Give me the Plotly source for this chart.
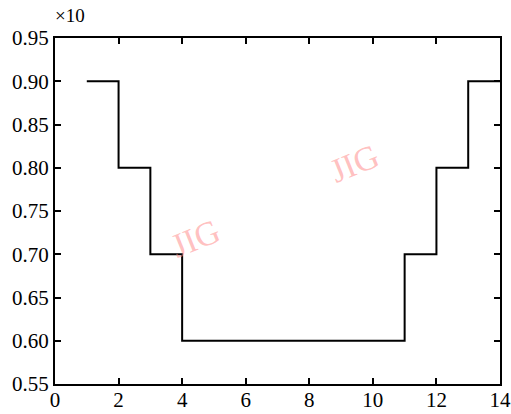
import plotly.graph_objects as go

x_vals = [1, 2, 3, 4, 5, 6, 7, 8, 9, 10, 11, 12, 13, 14]
y_vals = [0.90, 0.80, 0.70, 0.60, 0.60, 0.60, 0.60, 0.60, 0.60, 0.60, 0.70, 0.80, 0.90, 0.90]
x_ticks = [0, 2, 4, 6, 8, 10, 12, 14]
y_ticks = [0.55, 0.60, 0.65, 0.70, 0.75, 0.80, 0.85, 0.90, 0.95]

font = "Liberation Serif, Times New Roman, serif"

fig = go.Figure()
fig.add_trace(go.Scatter(x=x_vals, y=y_vals, mode="lines", line_shape="hv",
                         line=dict(color="black", width=2), showlegend=False))

axis_common = dict(showgrid=False, zeroline=False, showline=True, linecolor="black",
                   linewidth=2, mirror="ticks", ticks="inside", ticklen=6,
                   tickwidth=1.5, tickcolor="black", automargin=False,
                   tickfont=dict(family=font, size=21, color="black"))

fig.update_xaxes(range=[0, 14], tickvals=x_ticks, ticklabelstandoff=-4, **axis_common)
fig.update_yaxes(range=[0.55, 0.95], tickvals=y_ticks, tickformat=".2f", **axis_common)

fig.add_annotation(text="×10", xref="paper", yref="paper", x=-0.005, y=1.0,
                   xanchor="left", yanchor="bottom", yshift=10, showarrow=False,
                   font=dict(family=font, size=19, color="black"))
for ax, ay in [(0.243, 0.42), (0.745, 0.72)]:
    fig.add_annotation(text="JIG", xref="paper", yref="paper", x=ax, y=ay,
                       showarrow=False, textangle=-22,
                       font=dict(family=font, size=34, color="rgba(255,140,140,0.55)"))

fig.update_layout(width=511, height=414, margin=dict(l=55, r=11, t=38, b=30),
                  plot_bgcolor="white", paper_bgcolor="white")

fig.write_html("out.html")
